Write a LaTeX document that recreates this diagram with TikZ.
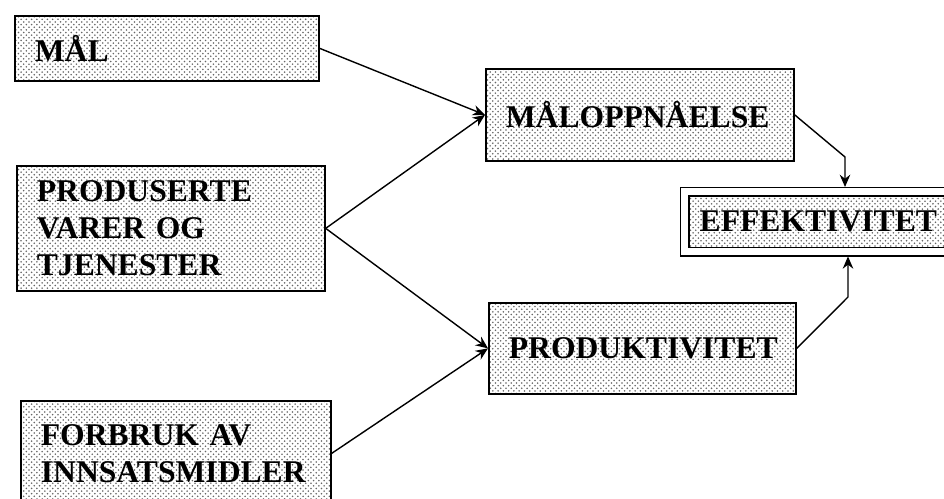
\documentclass[tikz,border=0pt]{standalone}
\usepackage{fontspec}
\setmainfont{Liberation Serif}
\usepackage{tikz}
\usetikzlibrary{arrows.meta, patterns}

\begin{document}
\begin{tikzpicture}[
  x=0.02cm, y=-0.02cm,
  box/.style={
    rectangle, draw, line width=1pt, anchor=north west,
    pattern=crosshatch dots, pattern color=black!60,
    inner xsep=0.4cm, inner ysep=0pt, align=left,
    font=\fontsize{18}{21}\selectfont\bfseries
  },
  goal/.style={box, double, double distance=0.14cm, line width=0.8pt, inner xsep=0.3cm},
  link/.style={-{Stealth[length=7pt,width=6pt]}, line width=0.8pt}
]
\useasboundingbox (0,0) rectangle (944,499);

% inputs
\node[box, text width=5.28cm, minimum height=1.3cm] (mal) at (14,15) {MÅL};
\node[box, text width=5.36cm, minimum height=2.5cm] (produsert) at (16,165)
  {PRODUSERTE\\VARER OG\\TJENESTER};
\node[box, text width=5.4cm, minimum height=2.1cm] (forbruk) at (20,400)
  {FORBRUK AV\\INNSATSMIDLER};

% measures
\node[box, text width=5.36cm, minimum height=1.84cm] (maloppn) at (485,68) {MÅLOPPNÅELSE};
\node[box, text width=5.34cm, minimum height=1.82cm] (produktiv) at (488,302) {PRODUKTIVITET};

% result
\node[goal, text width=4.72cm, minimum height=1.2cm] (effekt) at (684,191) {EFFEKTIVITET};

\coordinate (kneeA) at (845,157);
\coordinate (kneeB) at (848,297);

\draw[link] (mal.east) -- (maloppn.west);
\draw[link] (produsert.east) -- (maloppn.west);
\draw[link] (produsert.east) -- (produktiv.west);
\draw[link] (forbruk.east) -- (produktiv.west);
\draw[link] (maloppn.east) -- (kneeA) -- ([yshift=0.08cm]kneeA |- effekt.north);
\draw[link] (produktiv.east) -- (kneeB) -- ([yshift=-0.08cm]kneeB |- effekt.south);
\end{tikzpicture}
\end{document}
